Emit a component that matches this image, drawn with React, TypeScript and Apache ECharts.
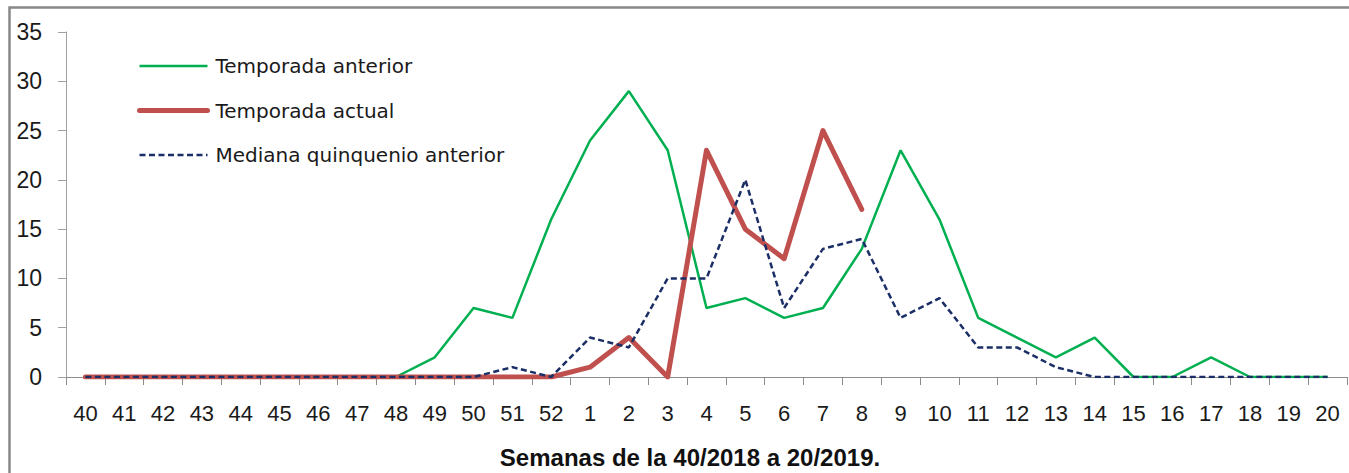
import React, { useEffect, useRef } from "react";
import * as echarts from "echarts";

const weeks: string[] = [
  "40", "41", "42", "43", "44", "45", "46", "47", "48", "49", "50", "51", "52",
  "1", "2", "3", "4", "5", "6", "7", "8", "9", "10", "11", "12", "13", "14", "15", "16", "17", "18", "19", "20",
];

const temporadaAnterior: number[] = [
  0, 0, 0, 0, 0, 0, 0, 0, 0, 2, 7, 6, 16,
  24, 29, 23, 7, 8, 6, 7, 13, 23, 16, 6, 4, 2, 4, 0, 0, 2, 0, 0, 0,
];

const temporadaActual: (number | null)[] = [
  0, 0, 0, 0, 0, 0, 0, 0, 0, 0, 0, 0, 0,
  1, 4, 0, 23, 15, 12, 25, 17, null, null, null, null, null, null, null, null, null, null, null, null,
];

const medianaQuinquenio: number[] = [
  0, 0, 0, 0, 0, 0, 0, 0, 0, 0, 0, 1, 0,
  4, 3, 10, 10, 20, 7, 13, 14, 6, 8, 3, 3, 1, 0, 0, 0, 0, 0, 0, 0,
];

const axisTitle = "Semanas de la 40/2018 a 20/2019.";

export default function App() {
  const ref = useRef<HTMLDivElement>(null);

  useEffect(() => {
    if (!ref.current) return;
    const chart = echarts.init(ref.current, null, { renderer: "svg" });
    const axisGray = "#8c8c8c";
    const textColor = "#1a1a1a";
    chart.setOption({
      animation: false,
      backgroundColor: "#ffffff",
      grid: { left: 66, right: 2, top: 32, bottom: 96, containLabel: false },
      legend: {
        orient: "vertical",
        left: 137,
        top: 54,
        padding: 0,
        itemWidth: 68,
        itemHeight: 24,
        itemGap: 20.5,
        itemStyle: { opacity: 0 },
        lineStyle: { width: "inherit" },
        textStyle: {
          fontFamily: "DejaVu Sans",
          fontSize: 20,
          color: textColor,
          lineHeight: 24,
          padding: [0, 0, 0, 3],
        },
        data: ["Temporada anterior", "Temporada actual", "Mediana quinquenio anterior"],
      },
      xAxis: {
        type: "category",
        data: weeks,
        boundaryGap: true,
        axisLine: { lineStyle: { color: axisGray, width: 1 } },
        axisTick: { show: true, length: 8, alignWithLabel: false, lineStyle: { color: axisGray } },
        axisLabel: {
          interval: 0,
          margin: 25,
          fontFamily: "Liberation Sans",
          fontSize: 22,
          color: textColor,
        },
        splitLine: { show: false },
      },
      yAxis: {
        type: "value",
        min: 0,
        max: 35,
        interval: 5,
        axisLine: { show: true, lineStyle: { color: "#a0a0a0", width: 1 } },
        axisTick: { show: true, length: 8, lineStyle: { color: "#a0a0a0" } },
        axisLabel: {
          margin: 24,
          fontFamily: "Liberation Sans",
          fontSize: 23,
          color: textColor,
        },
        splitLine: { show: false },
      },
      graphic: [
        {
          type: "rect",
          shape: { x: 9.5, y: 7.5, width: 3000, height: 3000 },
          style: { fill: "none", stroke: "#888888", lineWidth: 2.5 },
          silent: true,
          z: 100,
        },
        {
          type: "text",
          x: 690,
          y: 457,
          style: {
            text: axisTitle,
            fontFamily: "Liberation Sans",
            fontWeight: "bold",
            fontSize: 24,
            fill: "#111111",
            textAlign: "center",
            textVerticalAlign: "middle",
          },
        },
      ],
      series: [
        {
          name: "Temporada anterior",
          type: "line",
          data: temporadaAnterior,
          symbol: "none",
          showSymbol: false,
          lineStyle: { color: "#00B050", width: 2.5 },
          itemStyle: { color: "#00B050" },
        },
        {
          name: "Temporada actual",
          type: "line",
          data: temporadaActual,
          symbol: "none",
          showSymbol: false,
          connectNulls: false,
          lineStyle: { color: "#C0504D", width: 5, cap: "round", join: "round" },
          itemStyle: { color: "#C0504D" },
        },
        {
          name: "Mediana quinquenio anterior",
          type: "line",
          data: medianaQuinquenio,
          symbol: "none",
          showSymbol: false,
          lineStyle: { color: "#1B2F66", width: 2.5, type: [6, 3.5] },
          itemStyle: { color: "#1B2F66" },
        },
      ],
    });
    return () => chart.dispose();
  }, []);

  return (
    <div
      ref={ref}
      style={{ position: "absolute", left: 0, top: 0, width: 1349, height: 473 }}
    />
  );
}
